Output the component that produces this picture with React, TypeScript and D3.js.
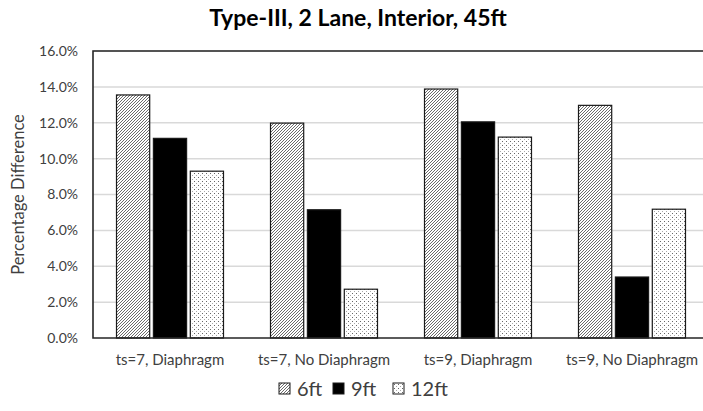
import { useEffect, useRef } from "react";
import * as d3 from "d3";

const categories = [
  "ts=7, Diaphragm",
  "ts=7, No Diaphragm",
  "ts=9, Diaphragm",
  "ts=9, No Diaphragm",
];
const seriesNames = ["6ft", "9ft", "12ft"];
const values6ft = [0.1355, 0.1198, 0.1388, 0.1297];
const values9ft = [0.1113, 0.0715, 0.1205, 0.034];
const values12ft = [0.093, 0.0272, 0.112, 0.0718];
const yTicks = [0, 0.02, 0.04, 0.06, 0.08, 0.1, 0.12, 0.14, 0.16];

const FONT = "Lato, 'Open Sans', sans-serif";

const App = () => {
  const ref = useRef<SVGSVGElement>(null);

  useEffect(() => {
    if (!ref.current) return;
    const width = 703;
    const left = 93;
    const top = 51;
    const bottom = 338;
    const right = 709;

    const svg = d3.select(ref.current);
    svg.selectAll("*").remove();

    // patterns
    const defs = svg.append("defs");
    const hatch = defs
      .append("pattern")
      .attr("id", "hatch")
      .attr("patternUnits", "userSpaceOnUse")
      .attr("width", 3)
      .attr("height", 3);
    hatch.append("rect").attr("width", 3).attr("height", 3).attr("fill", "#fff");
    hatch
      .append("path")
      .attr("d", "M-1,1 l2,-2 M0,3 l3,-3 M2,4 l2,-2")
      .attr("stroke", "#5a5a5a")
      .attr("stroke-width", 0.9);

    const dots = defs
      .append("pattern")
      .attr("id", "dots")
      .attr("patternUnits", "userSpaceOnUse")
      .attr("width", 4)
      .attr("height", 4);
    dots.append("rect").attr("width", 4).attr("height", 4).attr("fill", "#fff");
    dots.append("rect").attr("x", 1).attr("y", 1).attr("width", 1).attr("height", 1).attr("fill", "#666");
    dots.append("rect").attr("x", 3).attr("y", 3).attr("width", 1).attr("height", 1).attr("fill", "#aaa");

    const fills = ["url(#hatch)", "#000", "url(#dots)"];
    const series = [values6ft, values9ft, values12ft];

    const x0 = d3.scaleBand<string>().domain(categories).range([left, right]);
    const x1 = d3
      .scaleBand<string>()
      .domain(seriesNames)
      .range([23.5, x0.bandwidth() - 23.5])
      .paddingInner(0.1);
    const y = d3.scaleLinear().domain([0, 0.16]).range([bottom, top]);

    // gridlines
    svg
      .append("g")
      .selectAll("line")
      .data(yTicks.slice(1))
      .join("line")
      .attr("x1", left)
      .attr("x2", width)
      .attr("y1", (d) => y(d))
      .attr("y2", (d) => y(d))
      .attr("stroke", "#d9d9d9")
      .attr("stroke-width", 1.5);

    // tick labels
    svg
      .append("g")
      .selectAll("text")
      .data(yTicks)
      .join("text")
      .attr("x", 78)
      .attr("y", (d) => y(d))
      .attr("dy", "0.35em")
      .attr("text-anchor", "end")
      .attr("font-family", FONT)
      .attr("font-size", 14)
      .attr("fill", "#404040")
      .text((d) => d3.format(".1%")(d));

    // bars
    const groups = svg
      .append("g")
      .selectAll("g")
      .data(categories)
      .join("g")
      .attr("transform", (d) => `translate(${x0(d)},0)`);

    groups
      .selectAll("rect")
      .data((_, i) => series.map((s, j) => ({ name: seriesNames[j], v: s[i], j })))
      .join("rect")
      .attr("x", (d) => x1(d.name)!)
      .attr("width", x1.bandwidth())
      .attr("y", (d) => y(d.v))
      .attr("height", (d) => bottom - y(d.v))
      .attr("fill", (d) => fills[d.j])
      .attr("stroke", "#1a1a1a")
      .attr("stroke-width", 1.2);

    // plot frame: top, left, bottom
    svg
      .append("path")
      .attr("d", `M${width},${top}H${left}V${bottom}H${width}`)
      .attr("fill", "none")
      .attr("stroke", "#262626")
      .attr("stroke-width", 1.6);

    // category labels
    svg
      .append("g")
      .selectAll("text")
      .data(categories)
      .join("text")
      .attr("x", (d) => x0(d)! + x0.bandwidth() / 2)
      .attr("y", 365)
      .attr("text-anchor", "middle")
      .attr("font-family", FONT)
      .attr("font-size", 15)
      .attr("fill", "#404040")
      .text((d) => d);

    // y title
    svg
      .append("text")
      .attr("transform", `translate(24,${(top + bottom) / 2}) rotate(-90)`)
      .attr("text-anchor", "middle")
      .attr("font-family", FONT)
      .attr("font-size", 16.5)
      .attr("fill", "#404040")
      .text("Percentage Difference");

    // title
    svg
      .append("text")
      .attr("x", 358)
      .attr("y", 26)
      .attr("text-anchor", "middle")
      .attr("font-family", FONT)
      .attr("font-weight", "bold")
      .attr("font-size", 23)
      .attr("fill", "#000")
      .text("Type-III, 2 Lane, Interior, 45ft");

    // legend
    const legendX = [279, 333, 393];
    const legend = svg
      .append("g")
      .selectAll("g")
      .data(seriesNames)
      .join("g")
      .attr("transform", (_, i) => `translate(${legendX[i]},383)`);
    legend
      .append("rect")
      .attr("width", 11)
      .attr("height", 11)
      .attr("fill", (_, i) => fills[i])
      .attr("stroke", "#1a1a1a")
      .attr("stroke-width", 1);
    legend
      .append("text")
      .attr("x", 18)
      .attr("y", 6)
      .attr("dy", "0.35em")
      .attr("font-family", FONT)
      .attr("font-size", 20)
      .attr("fill", "#404040")
      .text((d) => d);
  }, []);

  return (
    <svg
      ref={ref}
      width={703}
      height={411}
      style={{ position: "absolute", left: 0, top: 0, background: "#fff" }}
    />
  );
};

export default App;
